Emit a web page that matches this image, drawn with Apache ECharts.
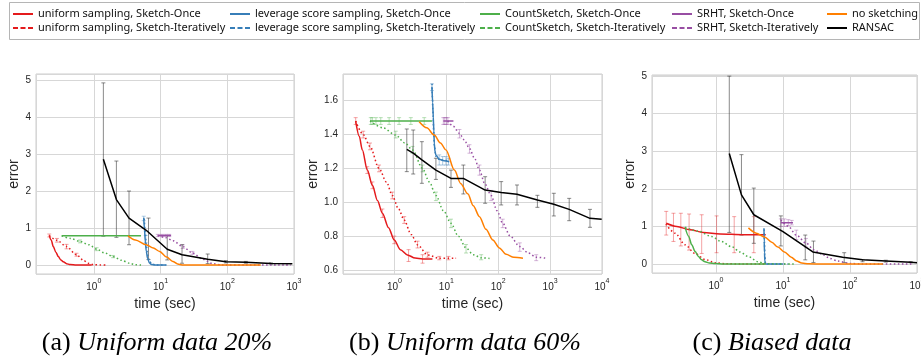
<!DOCTYPE html>
<html>
<head>
<meta charset="utf-8">
<script src="https://cdn.jsdelivr.net/npm/echarts@6/dist/echarts.min.js"></script>
<style>
  html, body { margin: 0; padding: 0; background: #fff; }
  #chart { width: 921px; height: 358px; }
</style>
</head>
<body>
<div id="chart"></div>
<script>
// ---- panel (a): uniform data 20%  [time, error]
const A_UNI_ONCE = [[0.215,0.80],[0.23,0.68],[0.247,0.50],[0.27,0.35],[0.294,0.23],[0.32,0.14],[0.348,0.09],[0.39,0.04],[0.44,0.015],[0.55,0],[0.93,0]]
const A_UNI_ITER = [[0.215,0.80],[0.28,0.67],[0.39,0.50],[0.55,0.28],[0.7,0.13],[0.82,0.05],[1.0,0.01],[1.5,0]]
const A_LEV_ONCE = [[5.6,1.28],[5.75,0.95],[5.9,0.65],[6.1,0.38],[6.4,0.18],[6.8,0.06],[7.3,0.015],[8.5,0],[12,0]]
const A_LEV_ITER = [[5.7,1.25],[5.9,0.9],[6.1,0.55],[6.4,0.28],[6.8,0.1],[7.4,0.03],[8.5,0],[13,0]]
const A_CS_ONCE = [[0.33,0.79],[5.1,0.79]]
const A_CS_ITER = [[0.33,0.79],[0.45,0.72],[0.62,0.64],[0.85,0.55],[1.1,0.43],[1.45,0.33],[1.94,0.23],[2.6,0.13],[3.44,0.05],[4.2,0.01],[5.1,0]]
const A_SRHT_ONCE = [[9.1,0.80],[14.4,0.80]]
const A_SRHT_ITER = [[9.1,0.80],[12,0.74],[15.3,0.66],[21.5,0.5],[30,0.33],[43,0.16],[60,0.04],[85,0.005],[200,0],[900,0]]
const A_NOSKETCH = [[3.25,0.79],[4.2,0.68],[6.1,0.55],[7.8,0.46],[9.7,0.37],[12.3,0.22],[15.3,0.1],[18,0.03],[21,0.005],[30,0],[317,0]]
const A_RANSAC = [[1.39,2.86],[2.18,1.77],[3.37,1.27],[6.1,0.94],[12.6,0.43],[21,0.28],[50.9,0.16],[95.5,0.09],[190,0.08],[450,0.045],[945,0.035]]
// error bars [time, low, high]
const A_RANSAC_BARS = [[1.39,0.78,4.92],[2.18,0.75,2.81],[3.37,0.55,2.0],[6.6,0.15,1.27],[12.6,0.14,0.8],[21,0.05,0.55],[50.9,0.04,0.3],[95.5,0.06,0.12],[190,0.05,0.1],[450,0.03,0.06]]
const A_UNI_BARS = [[0.215,0.76,0.84],[0.28,0.62,0.72],[0.39,0.44,0.56],[0.55,0.24,0.32]]
const A_CS_BARS = [[0.62,0.6,0.68],[1.1,0.39,0.47],[1.94,0.2,0.26]]
const A_LEV_BARS = [[5.6,1.2,1.32],[6.0,0.6,0.8]]
const A_SRHT_BARS = [[9.1,0.77,0.83],[10.5,0.77,0.83],[12,0.77,0.83],[13.5,0.77,0.83],[21.5,0.45,0.55],[30,0.29,0.37]]

// ---- panel (b): uniform data 60%
const B_UNI_ONCE = [[0.179,1.48],[0.21,1.39],[0.24,1.31],[0.30,1.19],[0.376,1.10],[0.47,1.01],[0.586,0.935],[0.77,0.85],[0.99,0.777],[1.3,0.72],[1.78,0.689],[2.5,0.67],[3.48,0.665],[5.4,0.664]]
const B_UNI_ITER = [[0.179,1.48],[0.25,1.40],[0.338,1.33],[0.505,1.2],[0.70,1.12],[0.91,1.04],[1.2,0.96],[1.54,0.895],[2.1,0.81],[2.79,0.748],[4.35,0.689],[7.3,0.669],[15.4,0.669]]
const B_LEV_ONCE = [[5.28,1.683],[5.45,1.59],[5.6,1.505],[5.75,1.42],[5.86,1.348],[6.05,1.3],[6.3,1.279],[7.3,1.254],[9,1.245],[11.4,1.24]]
const B_LEV_ITER = [[5.3,1.70],[5.5,1.55],[5.7,1.42],[5.9,1.33],[6.3,1.27],[7.5,1.25],[11.4,1.245]]
const B_CS_ONCE = [[0.338,1.48],[5.28,1.48]]
const B_CS_ITER = [[0.338,1.48],[0.6,1.44],[1.06,1.397],[1.6,1.35],[2.23,1.309],[3.48,1.2],[4.7,1.12],[6.3,1.04],[8.8,0.95],[12.3,0.876],[17,0.8],[24,0.73],[33,0.69],[47,0.672],[68,0.668]]
const B_SRHT_ONCE = [[8.75,1.48],[13.7,1.48]]
const B_SRHT_ITER = [[10.6,1.48],[13.5,1.45],[17.9,1.407],[22,1.37],[27.9,1.318],[35,1.26],[43.5,1.19],[55,1.11],[73,1.04],[95,0.95],[122,0.876],[170,0.8],[260,0.738],[380,0.70],[540,0.675],[850,0.669]]
const B_NOSKETCH = [[3.0,1.476],[4.2,1.44],[5.86,1.397],[7.7,1.35],[9.86,1.309],[14.3,1.19],[19,1.11],[25.9,1.05],[33,0.98],[43.5,0.915],[58,0.84],[78.8,0.777],[105,0.73],[142,0.692],[200,0.675],[300,0.669]]
const B_RANSAC = [[1.73,1.313],[2.3,1.29],[3.38,1.25],[6.3,1.19],[12.3,1.141],[21.3,1.141],[56,1.072],[114,1.057],[230,1.047],[569,1.013],[1178,0.988],[2333,0.958],[5864,0.905],[9860,0.899]]
const B_RANSAC_BARS = [[1.73,1.181,1.433],[2.3,1.167,1.427],[3.38,1.112,1.358],[6.3,1.135,1.26],[12.3,1.088,1.19],[21.3,1.049,1.22],[56,0.994,1.151],[114,0.984,1.122],[230,0.984,1.102],[569,0.97,1.041],[1178,0.919,1.053],[2333,0.891,1.023],[5864,0.852,0.958]]
const B_UNI_BARS = [[0.179,1.46,1.50],[0.30,1.17,1.21],[0.376,1.08,1.12],[0.586,0.91,0.96],[0.99,0.755,0.80],[1.87,0.65,0.72],[3.48,0.64,0.69],[0.25,1.38,1.42],[0.338,1.31,1.35],[0.505,1.18,1.22],[0.91,1.02,1.06],[1.54,0.875,0.915],[2.79,0.73,0.77],[4.35,0.675,0.705],[7.3,0.66,0.68],[11,0.66,0.68]]
const B_CS_BARS = [[0.35,1.46,1.50],[0.375,1.46,1.50],[0.44,1.46,1.50],[0.545,1.46,1.50],[0.79,1.46,1.50],[1.23,1.46,1.50],[2.07,1.46,1.50],[3.75,1.46,1.50],[1.06,1.38,1.42],[2.23,1.29,1.33],[3.48,1.18,1.22],[6.3,1.01,1.06],[12.3,0.85,0.9],[24,0.70,0.75],[47,0.66,0.69]]
const B_LEV_BARS = [[5.28,1.66,1.70],[7.3,1.22,1.28],[8.5,1.22,1.27],[9.8,1.22,1.27],[11,1.22,1.26]]
const B_SRHT_BARS = [[8.75,1.46,1.50],[9.3,1.46,1.50],[10,1.46,1.50],[10.7,1.46,1.50],[17.9,1.38,1.43],[27.9,1.29,1.34],[43.5,1.16,1.22],[73,1.01,1.07],[122,0.85,0.9],[260,0.71,0.76],[540,0.655,0.69]]

// ---- panel (c): biased data
const C_UNI_ONCE = [[0.181,1.085],[0.26,1.0],[0.41,0.91],[0.65,0.84],[1.15,0.80],[2.55,0.78],[5.53,0.78]]
const C_UNI_ITER = [[0.179,1.06],[0.246,0.82],[0.346,0.51],[0.487,0.28],[0.686,0.12],[0.97,0.03],[1.4,0.005],[2.5,0],[5.5,0]]
const C_LEV_ONCE = [[5.2,0.95],[5.25,0.6],[5.3,0.3],[5.36,0.08],[5.45,0.01],[5.6,0],[10,0]]
const C_LEV_ITER = [[5.25,0.92],[5.3,0.55],[5.36,0.25],[5.45,0.05],[5.6,0],[12,0]]
const C_CS_ONCE = [[0.346,0.98],[0.39,0.74],[0.435,0.51],[0.49,0.33],[0.546,0.2],[0.61,0.11],[0.686,0.06],[0.8,0.025],[0.97,0.01],[1.3,0],[5.5,0]]
const C_CS_ITER = [[0.346,0.98],[0.55,0.87],[0.86,0.73],[1.2,0.6],[1.71,0.46],[2.3,0.32],[3.02,0.2],[4.25,0.06],[5.4,0.01],[8,0],[15,0]]
const C_SRHT_ONCE = [[9.3,1.1],[14.1,1.1]]
const C_SRHT_ITER = [[9.3,1.17],[12,1.0],[15.8,0.77],[22,0.56],[29,0.38],[40,0.24],[50,0.15],[65,0.08],[100,0.015],[150,0],[850,0]]
const C_NOSKETCH = [[3.05,0.96],[4.0,0.82],[5.3,0.72],[6.8,0.58],[8.4,0.45],[10.5,0.32],[13.3,0.18],[16,0.08],[19,0.025],[24,0.003],[40,0],[310,0]]
const C_RANSAC = [[1.58,2.94],[2.4,1.84],[3.67,1.31],[10,0.86],[27.9,0.32],[77.8,0.18],[154,0.11],[342,0.08],[805,0.045],[1000,0.035]]
const C_RANSAC_BARS = [[1.58,0.84,5.0],[2.4,0.77,2.91],[3.67,0.55,2.02],[9.3,0.48,1.28],[21.5,0.11,0.77],[28.5,0.04,0.61],[82,0.04,0.3],[154,0.06,0.12],[342,0.05,0.1],[805,0.03,0.06]]
const C_UNI_BARS = [[0.181,0.77,1.4],[0.232,0.6,1.35],[0.299,0.48,1.35],[0.397,0.37,1.33],[0.612,0.28,1.31],[1.02,0.3,1.28],[1.87,0.3,1.26],[3.67,0.3,1.26]]
const C_SRHT_BARS = [[9.3,1.0,1.2],[10.5,1.0,1.2],[12,1.02,1.18],[13.5,1.04,1.16],[15.8,0.65,0.9],[22,0.45,0.68]]

const RED = '#e41a1c', BLUE = '#377eb8', GREEN = '#4daf4a', PURPLE = '#984ea3', ORANGE = '#ff7f00', BLACK = '#000000'
const N = {
  uniOnce: 'uniform sampling, Sketch-Once',
  uniIter: 'uniform sampling, Sketch-Iteratively',
  levOnce: 'leverage score sampling, Sketch-Once',
  levIter: 'leverage score sampling, Sketch-Iteratively',
  csOnce: 'CountSketch, Sketch-Once',
  csIter: 'CountSketch, Sketch-Iteratively',
  srhtOnce: 'SRHT, Sketch-Once',
  srhtIter: 'SRHT, Sketch-Iteratively',
  none: 'no sketching',
  ransac: 'RANSAC'
}

const panels = [
  { uniOnce: A_UNI_ONCE, uniIter: A_UNI_ITER, levOnce: A_LEV_ONCE, levIter: A_LEV_ITER, csOnce: A_CS_ONCE, csIter: A_CS_ITER,
    srhtOnce: A_SRHT_ONCE, srhtIter: A_SRHT_ITER, none: A_NOSKETCH, ransac: A_RANSAC,
    bars: [[RED, A_UNI_BARS], [GREEN, A_CS_BARS], [BLUE, A_LEV_BARS], [PURPLE, A_SRHT_BARS]], ransacBars: A_RANSAC_BARS },
  { uniOnce: B_UNI_ONCE, uniIter: B_UNI_ITER, levOnce: B_LEV_ONCE, levIter: B_LEV_ITER, csOnce: B_CS_ONCE, csIter: B_CS_ITER,
    srhtOnce: B_SRHT_ONCE, srhtIter: B_SRHT_ITER, none: B_NOSKETCH, ransac: B_RANSAC,
    bars: [[RED, B_UNI_BARS], [GREEN, B_CS_BARS], [BLUE, B_LEV_BARS], [PURPLE, B_SRHT_BARS]], ransacBars: B_RANSAC_BARS },
  { uniOnce: C_UNI_ONCE, uniIter: C_UNI_ITER, levOnce: C_LEV_ONCE, levIter: C_LEV_ITER, csOnce: C_CS_ONCE, csIter: C_CS_ITER,
    srhtOnce: C_SRHT_ONCE, srhtIter: C_SRHT_ITER, none: C_NOSKETCH, ransac: C_RANSAC,
    bars: [[RED, C_UNI_BARS], [PURPLE, C_SRHT_BARS]], ransacBars: C_RANSAC_BARS }
]

function rgba(hex, a) {
  const n = parseInt(hex.slice(1), 16)
  return 'rgba(' + (n >> 16) + ',' + ((n >> 8) & 255) + ',' + (n & 255) + ',' + a + ')'
}

function lineSeries(key, color, dotted, data, i) {
  return {
    type: 'line', name: N[key], xAxisIndex: i, yAxisIndex: i, data: data,
    symbol: 'none', animation: false, z: key === 'ransac' ? 5 : 3,
    smooth: key === 'ransac' ? false : 0.3, smoothMonotone: 'x',
    lineStyle: { color: color, width: 1.5, type: dotted ? [1.5, 2.5] : 'solid' },
    itemStyle: { color: color }
  }
}

function barSeries(color, data, i) {
  return {
    type: 'custom', xAxisIndex: i, yAxisIndex: i, data: data, silent: true, animation: false, z: 2,
    encode: { x: 0, y: [1, 2] },
    renderItem: function (params, api) {
      const x = api.value(0)
      const a = api.coord([x, api.value(1)])
      const b = api.coord([x, api.value(2)])
      const st = { stroke: color, lineWidth: 1 }
      return {
        type: 'group',
        children: [
          { type: 'line', shape: { x1: a[0], y1: a[1], x2: b[0], y2: b[1] }, style: st },
          { type: 'line', shape: { x1: a[0] - 2, y1: a[1], x2: a[0] + 2, y2: a[1] }, style: st },
          { type: 'line', shape: { x1: b[0] - 2, y1: b[1], x2: b[0] + 2, y2: b[1] }, style: st }
        ]
      }
    }
  }
}

const series = []
panels.forEach(function (p, i) {
  p.bars.forEach(function (b) { series.push(barSeries(rgba(b[0], 0.4), b[1], i)) })
  series.push(barSeries('rgba(60,60,60,0.6)', p.ransacBars, i))
  series.push(lineSeries('uniOnce', RED, false, p.uniOnce, i))
  series.push(lineSeries('uniIter', RED, true, p.uniIter, i))
  series.push(lineSeries('levOnce', BLUE, false, p.levOnce, i))
  series.push(lineSeries('levIter', BLUE, true, p.levIter, i))
  series.push(lineSeries('csOnce', GREEN, false, p.csOnce, i))
  series.push(lineSeries('csIter', GREEN, true, p.csIter, i))
  series.push(lineSeries('srhtOnce', PURPLE, false, p.srhtOnce, i))
  series.push(lineSeries('srhtIter', PURPLE, true, p.srhtIter, i))
  series.push(lineSeries('none', ORANGE, false, p.none, i))
  series.push(lineSeries('ransac', BLACK, false, p.ransac, i))
})

const GRIDS = [
  { left: 36, top: 74, width: 258, height: 200 },
  { left: 343, top: 74, width: 259, height: 200 },
  { left: 652, top: 75, width: 265, height: 198 }
]
const X_RANGE = [[0.136, 1000], [0.102, 10000], [0.111, 1000]]
const Y_RANGE = [[-0.24, 5.16], [0.576, 1.758], [-0.24, 5.03]]
const Y_NAME_GAP = [9, 23, 10]

const txt = '#262626'
const xAxes = GRIDS.map(function (g, i) {
  return {
    type: 'log', logBase: 10, gridIndex: i, min: X_RANGE[i][0], max: X_RANGE[i][1],
    axisLine: { show: false }, axisTick: { show: false },
    splitLine: { show: true, lineStyle: { color: '#d7d7d7', width: 1 } },
    axisLabel: {
      margin: 4, color: txt, fontFamily: 'Liberation Sans', hideOverlap: false,
      formatter: function (v) {
        const l = Math.log10(v), e = Math.round(l)
        if (Math.abs(l - e) > 1e-6) return ''
        return '{b|10}{s|' + e + '}'
      },
      rich: {
        b: { fontSize: 10, lineHeight: 14, verticalAlign: 'bottom', color: txt, fontFamily: 'Liberation Sans' },
        s: { fontSize: 7, lineHeight: 14, verticalAlign: 'top', color: txt, fontFamily: 'Liberation Sans' }
      }
    },
    name: 'time (sec)', nameLocation: 'middle', nameGap: 18,
    nameTextStyle: { fontSize: 14, color: txt, fontFamily: 'Liberation Sans' }
  }
})
const yAxes = GRIDS.map(function (g, i) {
  return {
    type: 'value', gridIndex: i, min: Y_RANGE[i][0], max: Y_RANGE[i][1],
    axisLine: { show: false }, axisTick: { show: false },
    splitLine: { show: true, lineStyle: { color: '#d7d7d7', width: 1 } },
    axisLabel: {
      margin: 5, fontSize: 10, color: txt, fontFamily: 'Liberation Sans',
      formatter: function (v) {
        if (i === 1) {
          const k = Math.round(v / 0.2)
          return Math.abs(v - k * 0.2) < 1e-6 ? (k * 0.2).toFixed(1) : ''
        }
        return Math.abs(v - Math.round(v)) < 1e-6 ? String(Math.round(v)) : ''
      }
    },
    name: 'error', nameLocation: 'middle', nameGap: Y_NAME_GAP[i],
    nameTextStyle: { fontSize: 14, color: txt, fontFamily: 'Liberation Sans' }
  }
})

// legend icons: 20x2 bars, solid or dashed
const ICON_SOLID = 'path://M0,0h20v2h-20z'
const ICON_DASH = 'path://M0,0h5v2h-5zM7.5,0h5v2h-5zM15,0h5v2h-5z'
const LEG_COLS = [
  [13, ['uniOnce', 'uniIter']],
  [230, ['levOnce', 'levIter']],
  [480, ['csOnce', 'csIter']],
  [672, ['srhtOnce', 'srhtIter']],
  [827, ['none', 'ransac']]
]
const legends = LEG_COLS.map(function (c) {
  return {
    left: c[0], top: 7, orient: 'vertical', itemWidth: 20, itemHeight: 2, itemGap: 0,
    selectedMode: false, padding: 0,
    textStyle: { fontSize: 11, lineHeight: 14, color: '#111', fontFamily: 'Noto Sans' },
    data: c[1].map(function (k) {
      return { name: N[k], icon: /Iter/.test(k) ? ICON_DASH : ICON_SOLID }
    })
  }
})

const TITLES = [
  [157, '(a)', 'Uniform data 20%'],
  [465, '(b)', 'Uniform data 60%'],
  [772, '(c)', 'Biased data']
]

const chart = echarts.init(document.getElementById('chart'), null, { renderer: 'canvas' })
chart.setOption({
  animation: false,
  backgroundColor: '#ffffff',
  grid: GRIDS.map(function (g) {
    return Object.assign({ show: true, borderColor: '#cccccc', borderWidth: 1, backgroundColor: '#fff',
      containLabel: false, outerBoundsMode: 'none' }, g)
  }),
  xAxis: xAxes,
  yAxis: yAxes,
  legend: legends,
  graphic: [
    { type: 'rect', z: -1, shape: { x: 9.5, y: 2.5, width: 910, height: 37 }, style: { fill: '#fff', stroke: '#b5b5b5', lineWidth: 1 } }
  ].concat(TITLES.map(function (t) {
    return {
      type: 'text', x: t[0], y: 343,
      style: {
        text: '{p|' + t[1] + '}  {i|' + t[2] + '}',
        align: 'center', verticalAlign: 'middle',
        rich: {
          p: { fontFamily: 'Liberation Serif', fontSize: 26, fill: '#000' },
          i: { fontFamily: 'Liberation Serif', fontSize: 26, fontStyle: 'italic', fill: '#000' }
        }
      }
    }
  })),
  series: series
})
</script>
</body>
</html>
